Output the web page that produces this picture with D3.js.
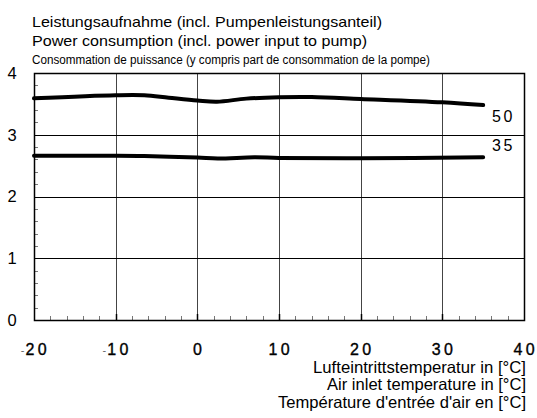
<!DOCTYPE html>
<html>
<head>
<meta charset="utf-8">
<script src="https://cdn.jsdelivr.net/npm/d3@7"></script>
<style>
  body { margin: 0; background: #fff; }
  svg { display: block; font-family: "Liberation Sans", Arial, sans-serif; }
</style>
</head>
<body>
<svg id="chart" width="537" height="418"></svg>
<script>
// air inlet temperature (°C) and power consumption (kW) per flow temperature
const temp50 = [-20, -10, -6.5, -3.5, 0, 2.4, 6, 10, 14, 20, 30, 35];
const power50 = [3.59, 3.64, 3.64, 3.60, 3.555, 3.535, 3.585, 3.607, 3.61, 3.58, 3.525, 3.48];
const temp35 = [-20, -10, -6.5, 0, 2.5, 7, 10, 20, 35];
const power35 = [2.66, 2.66, 2.655, 2.63, 2.615, 2.635, 2.625, 2.62, 2.635];
const seriesNames = ["50", "35"];
const xTicks = [-20, -10, 0, 10, 20, 30, 40];
const yTicks = [0, 1, 2, 3, 4];
const titleLines = [
  "Leistungsaufnahme (incl. Pumpenleistungsanteil)",
  "Power consumption (incl. power input to pump)",
  "Consommation de puissance (y compris part de consommation de la pompe)"
];
const xTitleLines = [
  "Lufteintrittstemperatur in [°C]",
  "Air inlet temperature in [°C]",
  "Température d'entrée d'air en [°C]"
];

const svg = d3.select("#chart");
const plotL = 34, plotR = 524, plotT = 73, plotB = 320;

const x = d3.scaleLinear().domain([-20, 40]).range([plotL, plotR]);
const y = d3.scaleLinear().domain([0, 4]).range([plotB, plotT]);

// titles
const titleSizes = [15, 15, 12.5],
  titleY = [27, 46, 64],
  titleW = [350, 335, 398];
titleLines.forEach(function(t, i) {
  svg.append("text")
    .attr("x", 32).attr("y", titleY[i])
    .attr("font-size", titleSizes[i])
    .attr("textLength", titleW[i])
    .attr("lengthAdjust", "spacingAndGlyphs")
    .text(t);
});

// grid
const grid = svg.append("g");
grid.selectAll(".vgrid").data(xTicks.slice(1, -1)).enter()
  .append("line")
  .attr("x1", d => Math.round(x(d)) + 0.5).attr("x2", d => Math.round(x(d)) + 0.5)
  .attr("y1", plotT).attr("y2", plotB)
  .attr("stroke", "#444").attr("stroke-width", 1);
grid.selectAll(".hgrid").data(yTicks.slice(1, -1)).enter()
  .append("line")
  .attr("x1", plotL).attr("x2", plotR)
  .attr("y1", d => Math.round(y(d)) + 0.5).attr("y2", d => Math.round(y(d)) + 0.5)
  .attr("stroke", "#000").attr("stroke-width", 1);

// minor ticks
const xMinor = d3.range(-18, 40, 2).filter(d => d % 10 !== 0);
grid.selectAll(".xminor").data(xMinor).enter()
  .append("line")
  .attr("x1", d => Math.round(x(d)) + 0.5).attr("x2", d => Math.round(x(d)) + 0.5)
  .attr("y1", plotB).attr("y2", plotB - 4)
  .attr("stroke", "#777");
grid.selectAll(".xmajor").data(xTicks.slice(1, -1)).enter()
  .append("line")
  .attr("x1", d => Math.round(x(d)) + 0.5).attr("x2", d => Math.round(x(d)) + 0.5)
  .attr("y1", plotB).attr("y2", plotB - 6)
  .attr("stroke", "#000").attr("stroke-width", 1.5);
const yMinor = d3.range(0.2, 4, 0.2).filter(d => Math.abs(d - Math.round(d)) > 0.01);
grid.selectAll(".yminor").data(yMinor).enter()
  .append("line")
  .attr("x1", plotL).attr("x2", plotL + 4)
  .attr("y1", d => Math.round(y(d)) + 0.5).attr("y2", d => Math.round(y(d)) + 0.5)
  .attr("stroke", "#777");

// frame
svg.append("rect")
  .attr("x", plotL + 0.5).attr("y", plotT + 0.5)
  .attr("width", plotR - plotL).attr("height", plotB - plotT)
  .attr("fill", "none").attr("stroke", "#000").attr("stroke-width", 1.5);

// tick labels
svg.append("g").selectAll("text").data(yTicks).enter()
  .append("text")
  .attr("x", 12).attr("y", d => y(d)).attr("dy", "0.36em")
  .attr("text-anchor", "middle")
  .attr("font-size", 16.5)
  .text(d => d);

const xLab = svg.append("g").selectAll("text").data(xTicks).enter()
  .append("text")
  .attr("x", d => x(d) + (d < 0 ? 1.5 : 1.7)).attr("y", 355)
  .attr("text-anchor", "middle")
  .attr("font-size", 16)
  .attr("stroke", "#000").attr("stroke-width", 0.35);
xLab.filter(d => d < 0).append("tspan")
  .attr("font-size", 11).attr("fill", "#666").attr("stroke", "none")
  .attr("dx", 0).attr("dy", -1.5)
  .text("-");
xLab.append("tspan")
  .attr("dy", d => d < 0 ? 1.5 : 0)
  .attr("dx", d => d < 0 ? 1 : 0)
  .attr("letter-spacing", 3.4)
  .text(d => Math.abs(d));

// x axis title
const xTitleW = [213, 199, 248];
xTitleLines.forEach(function(t, i) {
  svg.append("text")
    .attr("x", 526).attr("y", 373 + i * 17.3)
    .attr("text-anchor", "end")
    .attr("font-size", 16.5)
    .attr("textLength", xTitleW[i])
    .attr("lengthAdjust", "spacingAndGlyphs")
    .text(t);
});

// curves
const line = d3.line()
  .x(d => x(d[0])).y(d => y(d[1]))
  .curve(d3.curveCatmullRom.alpha(0.5));
const series = [d3.zip(temp50, power50), d3.zip(temp35, power35)];
svg.append("g").selectAll("path").data(series).enter()
  .append("path")
  .attr("d", line)
  .attr("fill", "none")
  .attr("stroke", "#000")
  .attr("stroke-width", 4)
  .attr("stroke-linecap", "round");

// series labels
const labelY = [122, 151];
svg.append("g").selectAll("text").data(seriesNames).enter()
  .append("text")
  .attr("x", 492).attr("y", (d, i) => labelY[i])
  .attr("font-size", 16)
  .attr("letter-spacing", 2.5)
  .text(d => d);
</script>
</body>
</html>
